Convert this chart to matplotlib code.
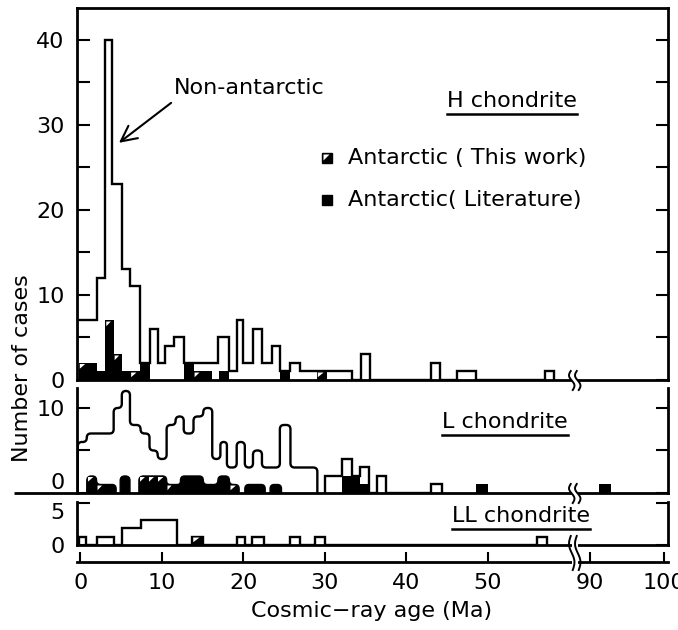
import numpy as np
import matplotlib
matplotlib.use('Agg')
import matplotlib.pyplot as plt
from matplotlib.path import Path
from matplotlib.patches import PathPatch, Polygon, Rectangle
from matplotlib.lines import Line2D
from matplotlib.transforms import IdentityTransform

plt.rcParams['font.family'] = ['DejaVu Sans']

# ---------------- data (ages in Ma, counts) ----------------
# H chondrite: total (non-antarctic outline)
H_edges = [-0.4, 2.05, 3.07, 3.9, 5.1, 6.1, 7.3, 8.5, 9.6, 10.4, 11.5, 12.7, 16.9, 18.2,
           19.2, 20.0, 21.2, 22.3, 23.5, 24.5, 25.7, 27.0, 33.3, 34.4, 35.6, 43.1, 44.2,
           46.3, 48.6, 57.1, 58.1]
H_counts = [7, 12, 40, 23, 13, 11, 2, 6, 2, 4, 5, 2, 5, 1, 7, 2, 6, 2, 4, 1, 2, 1, 0, 3,
            0, 2, 0, 1, 0, 1]
# H chondrite antarctic cells
HA_left = [-0.2, 1.0, 2.05, 3.07, 4.1, 5.1, 6.1, 7.3, 12.7, 13.9, 15.0, 17.0, 24.5, 29.0]
HA_right = [1.0, 2.05, 3.07, 4.1, 5.1, 6.1, 7.3, 8.5, 13.9, 15.0, 16.2, 18.2, 25.7, 30.3]
HA_lit = [1, 2, 1, 6, 2, 1, 0, 2, 2, 0, 1, 1, 1, 0]
HA_this = [1, 0, 0, 1, 1, 0, 1, 0, 0, 1, 0, 0, 0, 1]

# L chondrite: rounded outline part
L_edges = [-0.3, 0.8, 4.1, 5.1, 6.1, 7.4, 8.5, 9.5, 10.6, 11.7, 12.7, 13.9, 15.1, 16.2,
           17.2, 18.0, 19.2, 20.2, 21.2, 22.3, 24.5, 25.8, 29.1]
L_counts = [6, 7, 10, 12, 8, 7, 5, 4, 8, 9, 7, 9, 10, 4, 6, 3, 6, 3, 5, 3, 8, 3]
# L chondrite: box part
L2_edges = [30.1, 32.1, 33.3, 34.3, 35.5, 36.4, 37.5, 43.1, 44.4]
L2_counts = [2, 4, 2, 3, 0, 2, 0, 1]
# L chondrite antarctic (rounded) cells
LA_left = [0.8, 2.0, 3.0, 4.9, 7.2, 8.3, 9.4, 10.6, 11.5, 12.3, 15.1, 16.9, 18.3, 20.2, 23.3]
LA_right = [2.0, 3.0, 4.4, 6.1, 8.3, 9.4, 10.6, 11.5, 12.3, 15.1, 16.9, 18.3, 19.5, 22.7, 24.7]
LA_lit = [1, 0, 1, 2, 1, 1, 1, 0, 1, 2, 1, 2, 0, 1, 1]
LA_this = [1, 1, 0, 0, 1, 1, 1, 1, 0, 0, 0, 0, 1, 0, 0]
# L chondrite antarctic (box) cells
LB_left = [32.1, 33.3, 34.3, 48.6, 91.2]
LB_right = [33.3, 34.3, 35.5, 50.0, 92.8]
LB_lit = [2, 2, 1, 1, 1]

# LL chondrite
LL_edges = [-0.1, 0.7, 2.0, 4.1, 5.1, 7.4, 11.9, 13.7, 15.1, 19.2, 20.2, 21.1, 22.5,
            25.8, 27.0, 28.8, 30.0, 56.0, 57.3]
LL_counts = [1, 0, 1, 0, 2, 3, 0, 1, 0, 1, 0, 1, 0, 1, 0, 1, 0, 1]
LLA_left = [13.7]
LLA_right = [15.1]
LLA_this = [1]

x_ticks = [0, 10, 20, 30, 40, 50, 90, 100]
H_yticks = [0, 10, 20, 30, 40]
L_yticks = [0, 10]
LL_yticks = [0, 5]

# ---------------- figure ----------------
W, HP = 678, 630
fig = plt.figure(figsize=(W / 100, HP / 100), dpi=100)


def add_ax(top, bottom, left=77, right=668):
    return fig.add_axes([left / W, (HP - bottom) / HP, (right - left) / W, (bottom - top) / HP])


def fwd(x):
    x = np.asarray(x, float)
    return np.where(x <= 60, x, np.where(x >= 90, 62.6 + (x - 90) * 0.9,
                                         60 + (x - 60) * (2.6 / 30)))


def inv(p):
    p = np.asarray(p, float)
    return np.where(p <= 60, p, np.where(p >= 62.6, 90 + (p - 62.6) / 0.9,
                                         60 + (p - 60) * (30 / 2.6)))


LW = 1.7
FS = 16

axH = add_ax(8, 380)
axL = add_ax(388, 493)
axLL = add_ax(502, 545)
axX = add_ax(552, 562)

for ax in (axH, axL, axLL, axX):
    ax.set_xscale('function', functions=(fwd, inv))
    ax.set_xlim(-0.4, 100.6)
    ax.patch.set_alpha(0)
    for s in ax.spines.values():
        s.set_linewidth(2.0)

axH.set_ylim(0, 43.76)
axL.set_ylim(0, 12.35)
axLL.set_ylim(0, 5.06)

for ax, maj, mnr in ((axH, H_yticks, [5, 15, 25, 35]), (axL, L_yticks, [5]), (axLL, LL_yticks, [])):
    ax.set_yticks(maj)
    ax.set_yticks(mnr, minor=True)
    ax.tick_params(axis='y', which='both', left=True, right=True, direction='in',
                   length=9, width=1.5, labelsize=FS, pad=9)
    ax.tick_params(axis='x', which='both', bottom=False, top=False, labelbottom=False)
    ax.spines['top'].set_visible(ax is axH)

# label alignment as in the reference (L "0" sits on the baseline, LL "5" hangs from its tick)
axL.yaxis.get_major_ticks()[0].label1.set_va('bottom')
axLL.yaxis.get_major_ticks()[1].label1.set_va('top')

axX.set_yticks([])
for s in ('left', 'right', 'top'):
    axX.spines[s].set_visible(False)
axX.set_xticks(x_ticks)
axX.set_xticks([], minor=True)
axX.tick_params(axis='x', which='major', direction='in', length=7, width=1.5,
                labelsize=FS, pad=8)

# ---------------- helpers ----------------


def rounded_step(edges, heights, r):
    pts = [(edges[0], 0.0)]
    for i, h in enumerate(heights):
        pts.append((edges[i], h))
        pts.append((edges[i + 1], h))
    pts.append((edges[-1], 0.0))
    clean = [pts[0]]
    for p in pts[1:]:
        if abs(p[0] - clean[-1][0]) < 1e-9 and abs(p[1] - clean[-1][1]) < 1e-9:
            continue
        clean.append(p)
    verts = [clean[0]]
    codes = [Path.MOVETO]
    for i in range(1, len(clean) - 1):
        p0, p1, p2 = (np.array(clean[i - 1]), np.array(clean[i]), np.array(clean[i + 1]))
        d1 = np.linalg.norm(p1 - p0)
        d2 = np.linalg.norm(p2 - p1)
        rr = min(r, d1 / 2, d2 / 2)
        a = p1 + (p0 - p1) / d1 * rr
        b = p1 + (p2 - p1) / d2 * rr
        verts += [tuple(a), tuple(p1), tuple(b)]
        codes += [Path.LINETO, Path.CURVE3, Path.CURVE3]
    verts.append(clean[-1])
    codes.append(Path.LINETO)
    return Path(verts, codes)


def mark_this(ax, x0, x1, y0, y1, frac=0.55):
    w, h = x1 - x0, y1 - y0
    tri = Polygon([(x0 + 0.12 * w, y1 - 0.12 * h), (x0 + (0.12 + frac) * w, y1 - 0.12 * h),
                   (x0 + 0.12 * w, y1 - (0.12 + frac) * h)],
                  closed=True, facecolor='white', edgecolor='none', zorder=4)
    ax.add_patch(tri)


# ---------------- H chondrite ----------------
wH = np.subtract(HA_right, HA_left)
axH.bar(HA_left, HA_lit, width=wH, align='edge', color='black', lw=0, zorder=2)
bars = axH.bar(HA_left, HA_this, width=wH, bottom=HA_lit, align='edge', color='black',
               lw=0, zorder=2)
for p, n in zip(bars.patches, HA_this):
    if n > 0:
        mark_this(axH, p.get_x(), p.get_x() + p.get_width(), p.get_y(), p.get_y() + p.get_height())
axH.stairs(H_counts, H_edges, baseline=0, color='black', lw=LW, zorder=3)

axH.annotate('Non-antarctic', xy=(4.75, 27.9), xytext=(20.7, 34.4), ha='center', va='center',
             fontsize=FS,
             arrowprops=dict(arrowstyle='->,head_length=0.7,head_width=0.35', lw=1.5,
                             color='black', relpos=(0.03, 0.0), shrinkA=3, shrinkB=0))

# ---------------- L chondrite ----------------
runs = []
cur = [0]
for i in range(1, len(LA_left)):
    if abs(LA_left[i] - LA_right[i - 1]) < 1e-9:
        cur.append(i)
    else:
        runs.append(cur)
        cur = [i]
runs.append(cur)
for run in runs:
    edges = [LA_left[run[0]]] + [LA_right[i] for i in run]
    heights = [LA_lit[i] + LA_this[i] for i in run]
    axL.add_patch(PathPatch(rounded_step(edges, heights, 0.55), facecolor='black',
                            edgecolor='black', lw=1.0, zorder=2))
for i, n in enumerate(LA_this):
    if n > 0:
        mark_this(axL, LA_left[i], LA_right[i], LA_lit[i], LA_lit[i] + n)

axL.add_patch(PathPatch(rounded_step(L_edges, L_counts, 0.5), facecolor='none',
                        edgecolor='black', lw=LW, zorder=3))
axL.bar(LB_left, LB_lit, width=np.subtract(LB_right, LB_left), align='edge', color='black',
        lw=0, zorder=2, clip_on=False)
axL.stairs(L2_counts, L2_edges, baseline=0, color='black', lw=LW, zorder=3)
axL.plot([(14 - 77) / 591, 0], [0, 0], transform=axL.transAxes, color='black', lw=2.0,
         clip_on=False, solid_capstyle='butt')

# ---------------- LL chondrite ----------------
llb = axLL.bar(LLA_left, LLA_this, width=np.subtract(LLA_right, LLA_left), align='edge',
               color='black', lw=0, zorder=2)
for p in llb.patches:
    mark_this(axLL, p.get_x(), p.get_x() + p.get_width(), p.get_y(), p.get_y() + p.get_height())
axLL.stairs(LL_counts, LL_edges, baseline=0, color='black', lw=LW, zorder=3)

# ---------------- texts ----------------


def fx(px):
    return px / W


def fy(py):
    return (HP - py) / HP


renderer = fig.canvas.get_renderer()


def underlined(px, py, s):
    t = fig.text(fx(px), fy(py), s, ha='left', va='center', fontsize=FS)
    bb = t.get_window_extent(renderer)
    fig.add_artist(Line2D([bb.x0, bb.x1], [bb.y0 - 2.5, bb.y0 - 2.5], transform=IdentityTransform(),
                          color='black', lw=1.8))
    return t


underlined(447, 101, 'H chondrite')
underlined(442, 422, 'L chondrite')
underlined(452, 516, 'LL chondrite')

# legend
for py, this in ((158, True), (200, False)):
    x0, y0 = 322, HP - py - 5
    fig.add_artist(Rectangle((x0, y0), 10, 10, transform=IdentityTransform(), facecolor='black',
                             edgecolor='black', lw=1))
    if this:
        fig.add_artist(Polygon([(x0 + 1.5, y0 + 8.5), (x0 + 7.5, y0 + 8.5), (x0 + 1.5, y0 + 2.5)],
                               closed=True, transform=IdentityTransform(), facecolor='white',
                               edgecolor='none'))
fig.text(fx(348), fy(158), 'Antarctic ( This work)', ha='left', va='center', fontsize=FS)
fig.text(fx(348), fy(200), 'Antarctic( Literature)', ha='left', va='center', fontsize=FS)

fig.text(fx(372), fy(611), 'Cosmic\u2212ray age (Ma)', ha='center', va='center', fontsize=FS)
fig.text(fx(22), fy(368), 'Number of cases', ha='center', va='center', rotation=90, fontsize=FS)

# ---------------- axis breaks ----------------


def draw_break(ax, xval, top_img, bot_img, gap=6):
    xd = ax.transData.transform((xval, 0))[0]
    ytop, ybot = HP - top_img, HP - bot_img
    fig.add_artist(Rectangle((xd - gap / 2, ybot + 3), gap, ytop - ybot - 6,
                             transform=IdentityTransform(), facecolor='white',
                             edgecolor='none', zorder=20))
    t = np.linspace(0, 1, 40)
    for dx in (-gap / 2, gap / 2):
        xs = xd + dx - 2.0 * (t - 0.5) + 2.2 * np.sin(2 * np.pi * t)
        ys = ybot + (ytop - ybot) * t
        fig.add_artist(Line2D(xs, ys, transform=IdentityTransform(), color='black', lw=1.4,
                              zorder=21))


draw_break(axH, 68, 371, 390)
draw_break(axL, 68, 484, 503)
draw_break(axLL, 68, 536, 570)

fig.savefig('out.png', dpi=100)
